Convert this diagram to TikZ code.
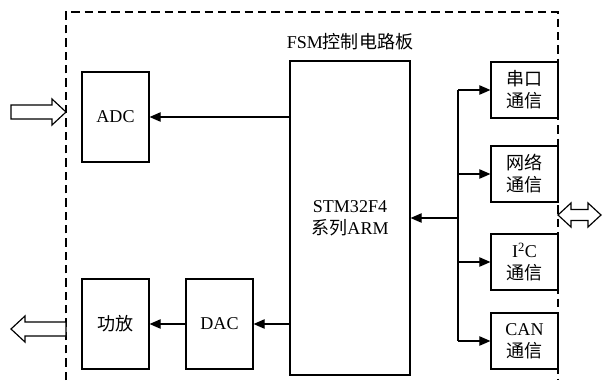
\documentclass[tikz,border=0pt]{standalone}
\usepackage{fontspec}
\setmainfont{Liberation Serif}
\newfontfamily\cjk{Noto Sans CJK SC}
\usetikzlibrary{arrows.meta,positioning}
\tikzset{>={Triangle[length=3.3mm,width=2.8mm]}}
\tikzset{
	blk/.style={draw,rectangle,inner sep=0pt,align=center,
		minimum width=2.01cm,minimum height=2.7cm,
		font=\fontsize{15.4}{18.8}\selectfont},
	comm/.style={blk,minimum height=1.68cm},
	hollow/.style={draw,fill=white,line width=1pt,line join=miter}
}
\begin{document}
\begin{tikzpicture}[x=0.03cm,y=-0.03cm,line width=1pt]
	\useasboundingbox (0,0) rectangle (602,380);
	\draw[dashed,dash pattern=on 0.25cm off 0.15cm]
		(66,380)--(66,12)--(558,12)--(558,380);
	\node[font=\fontsize{15.4}{18.8}\selectfont] (title) at (350,42) {FSM{\cjk 控制电路板}};
	\node[blk,minimum width=3.6cm,minimum height=9.42cm] (arm) at (350,218)
		{STM32F4\\{\cjk 系列}ARM};
	\node[blk] (adc) at (115.5,117) {ADC};
	\node[blk] (dac) at (219.5,324) {DAC};
	\node[blk] (amp) at (115.5,324) {\cjk 功放};
	\node[comm] (ser) at (524.5,90) {{\cjk 串口}\\{\cjk 通信}};
	\node[comm] (net) at (524.5,174) {{\cjk 网络}\\{\cjk 通信}};
	\node[comm] (iic) at (524.5,262) {I\textsuperscript{2}C\\{\cjk 通信}};
	\node[comm] (can) at (524.5,341) {CAN\\{\cjk 通信}};
	\coordinate (bus) at (458,218);
	\draw[->] (arm.west |- adc.east)--(adc.east);
	\draw[->] (arm.west |- dac.east)--(dac.east);
	\draw[->] (dac.west)--(amp.east);
	\draw[->] (bus)--(arm.east);
	\draw (bus |- ser.west)--(bus |- can.west);
	\draw[->] (bus |- ser.west)--(ser.west);
	\draw[->] (bus |- net.west)--(net.west);
	\draw[->] (bus |- iic.west)--(iic.west);
	\draw[->] (bus |- can.west)--(can.west);
	\draw[hollow] (11,105)--(52,105)--(52,99)--(66,112)--(52,125)--(52,119)--(11,119)--cycle;
	\draw[hollow] (66,322)--(25,322)--(25,316)--(11,329)--(25,342)--(25,336)--(66,336)--cycle;
	\draw[hollow] (558,215)--(571,203)--(571,209.5)--(588,209.5)--(588,203)--(601,215)
		--(588,227)--(588,220.5)--(571,220.5)--(571,227)--cycle;
\end{tikzpicture}
\end{document}
